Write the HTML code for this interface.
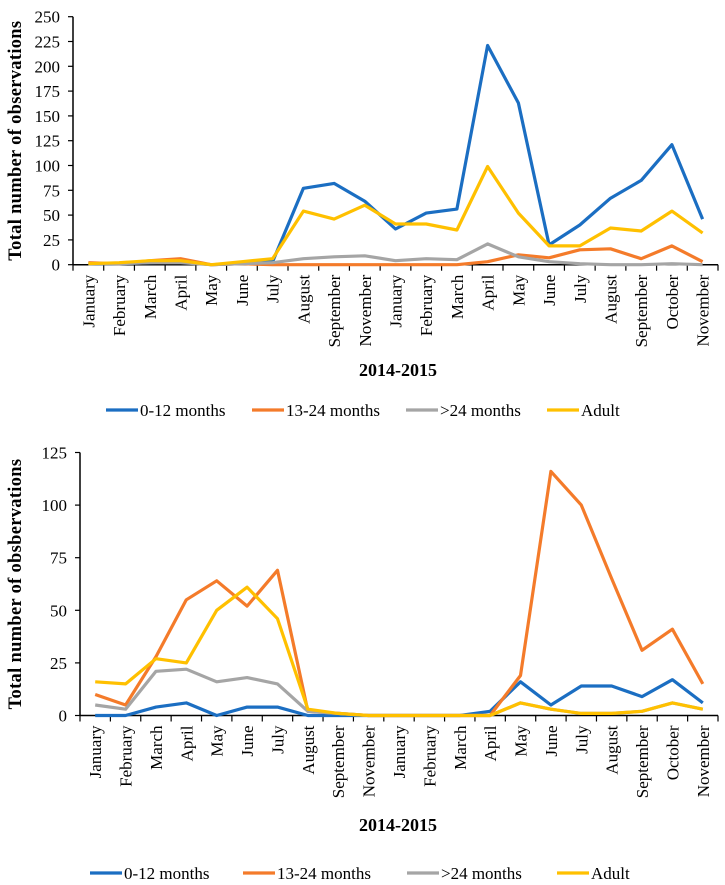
<!DOCTYPE html>
<html><head><meta charset="utf-8"><style>
body{margin:0;background:#fff;}
svg{display:block;font-family:"Liberation Serif",serif;}
</style></head><body>
<svg id="svg" width="725" height="885" viewBox="0 0 725 885"></svg>
<script>
const categories=["January","February","March","April","May","June","July","August","September","November","January","February","March","April","May","June","July","August","September","October","November"];
const seriesNames=["0-12 months","13-24 months",">24 months","Adult"];
const colors=["#1B6EC2","#F47B2A","#A5A5A5","#FFC000"];
const topBlue=[1,1,2,3,0,1,3,77,82,64,36,52,56,221,163,20,40,67,85,121,46];
const topOrange=[2,1,4,6,0,1,0,0,0,0,0,0,0,3,10,7,15,16,6,19,3];
const topGray=[1,1,2,2,0,1,2,6,8,9,4,6,5,21,8,3,1,0,0,1,0];
const topYellow=[1,2,4,4,0,3,6,54,46,60,41,41,35,99,52,19,19,37,34,54,32];
const topTicks=[0,25,50,75,100,125,150,175,200,225,250];
const botBlue=[0,0,4,6,0,4,4,0,0,0,0,0,0,2,16,5,14,14,9,17,6];
const botOrange=[10,5,28,55,64,52,69,2,1,0,0,0,0,0,19,116,100,65,31,41,15];
const botGray=[5,3,21,22,16,18,15,2,1,0,0,0,0,0,6,3,1,1,2,6,3];
const botYellow=[16,15,27,25,50,61,46,3,1,0,0,0,0,0,6,3,1,1,2,6,3];
const botTicks=[0,25,50,75,100,125];

const NS="http://www.w3.org/2000/svg";
const svg=document.getElementById('svg');
function mk(tag,attrs,parent,text){const e=document.createElementNS(NS,tag);for(const k in attrs)e.setAttribute(k,attrs[k]);if(text!==undefined)e.textContent=text;(parent||svg).appendChild(e);return e;}

function chart(cfg){
  const g=mk('g',{});
  
  
  const n=categories.length, bw=(cfg.x1-cfg.x0)/n;
  const xs=i=>cfg.x0+bw*(i+0.5);
  const ys=v=>cfg.y0-(v/cfg.max)*(cfg.y0-cfg.yTop);
  const ya=mk('line',{x1:cfg.x0,y1:cfg.yTop,x2:cfg.x0,y2:cfg.y0,stroke:'#000','stroke-width':1.5},g);
  
  
  cfg.ticks.forEach(t=>{
    mk('line',{x1:cfg.x0-5,y1:ys(t),x2:cfg.x0,y2:ys(t),stroke:'#000','stroke-width':1.2},g);
    const tl=mk('text',{x:cfg.x0-13,y:ys(t)+6,'text-anchor':'end','font-size':17},g,t);
    
    
  });
  const xa=mk('line',{x1:cfg.x0,y1:cfg.y0,x2:cfg.x1,y2:cfg.y0,stroke:'#000','stroke-width':1.5},g);
  
  
  for(let i=0;i<=n;i++){mk('line',{x1:cfg.x0+bw*i,y1:cfg.y0,x2:cfg.x0+bw*i,y2:cfg.y0+6,stroke:'#000','stroke-width':1.2},g);}
  categories.forEach((c,i)=>{
    const t=mk('text',{x:0,y:0,'text-anchor':'end','font-size':17,transform:`translate(${xs(i)+6},${cfg.y0+10}) rotate(-90)`},g,c);
    
    
  });
  const yt=mk('text',{x:0,y:0,'text-anchor':'middle','font-size':18.5,'font-weight':'bold','letter-spacing':0.3,transform:`translate(${cfg.ytx},${(cfg.yTop+cfg.y0)/2}) rotate(-90)`},g,'Total number of '+cfg.ylabel);
  
  
  const xt=mk('text',{x:398,y:cfg.titleY+6,'text-anchor':'middle','font-size':18,'font-weight':'bold'},g,'2014-2015');
  
  
  cfg.series.forEach((s,k)=>{
    const p=mk('polyline',{points:s.map((v,i)=>xs(i).toFixed(1)+','+ys(v).toFixed(1)).join(' '),fill:'none',stroke:colors[k],'stroke-width':3.2,'stroke-linejoin':'round'},g);
    
    
  });
  cfg.legendX.forEach((lx,k)=>{
    const lg=mk('g',{},g);
    
    
    mk('line',{x1:lx,y1:cfg.legY,x2:lx+32,y2:cfg.legY,stroke:colors[k],'stroke-width':3.2},lg);
    mk('text',{x:lx+34,y:cfg.legY+6,'font-size':17},lg,seriesNames[k]);
  });
}
chart({name:'top-chart',x0:73,x1:718,y0:264.7,yTop:16.7,max:250,ticks:topTicks,series:[topBlue,topOrange,topGray,topYellow],ylabel:'observations',ytx:21,titleY:370,legY:410,legendX:[106,252,406,547]});
chart({name:'bottom-chart',x0:80,x1:718,y0:715.5,yTop:452.5,max:125,ticks:botTicks,series:[botBlue,botOrange,botGray,botYellow],ylabel:'obsbervations',ytx:21,titleY:825,legY:873,legendX:[90,243,407,557]});
</script>
</body></html>
